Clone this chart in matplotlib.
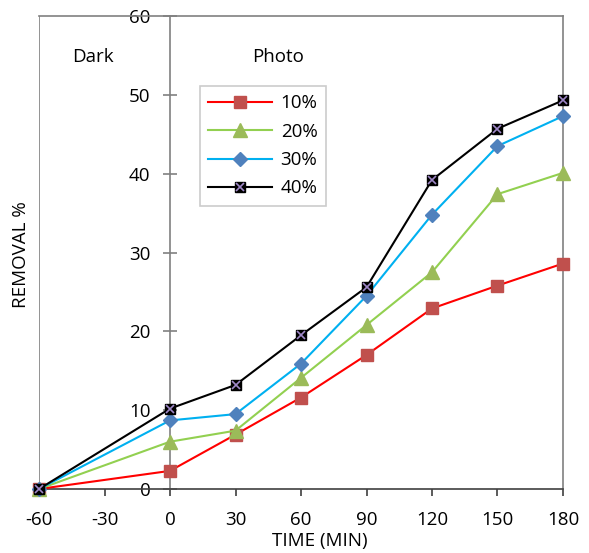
import matplotlib
matplotlib.use("Agg")
import matplotlib.pyplot as plt
from matplotlib.lines import Line2D
from matplotlib.legend_handler import HandlerTuple

plt.rcParams['font.family'] = ['Open Sans', 'DejaVu Sans']
plt.rcParams['axes.unicode_minus'] = False

time = [-60, 0, 30, 60, 90, 120, 150, 180]
s10 = [0, 2.3, 6.9, 11.6, 17.0, 22.9, 25.8, 28.6]
s20 = [0, 6.0, 7.4, 14.1, 20.8, 27.5, 37.4, 40.1]
s30 = [0, 8.7, 9.5, 15.9, 24.5, 34.8, 43.5, 47.3]
s40 = [0, 10.2, 13.2, 19.5, 25.6, 39.2, 45.7, 49.3]
labels = ['10%', '20%', '30%', '40%']
xticks = [-60, -30, 0, 30, 60, 90, 120, 150, 180]
yticks = [0, 10, 20, 30, 40, 50, 60]

FS = 13.5
fig = plt.figure(figsize=(5.89, 5.53), dpi=100)
ax = fig.add_axes([39/589, 1-489/553, (563-39)/589, (489-16)/553])
ax.set_xlim(-60, 180)
ax.set_ylim(0, 60)

gray = '#808080'
lw = 1.5
h1, = ax.plot(time, s10, color='#FF0000', lw=lw, marker='s', ms=9,
              mfc='#C0504D', mec='#C0504D', clip_on=False, zorder=3)
h2, = ax.plot(time, s20, color='#92D050', lw=lw, marker='^', ms=9.5,
              mfc='#9BBB59', mec='#9BBB59', clip_on=False, zorder=3)
h3, = ax.plot(time, s30, color='#00B0F0', lw=lw, marker='D', ms=7.5,
              mfc='#4F81BD', mec='#4F81BD', clip_on=False, zorder=4)
h4, = ax.plot(time, s40, color='black', lw=lw, marker='s', ms=7.5,
              mfc='black', mec='black', mew=1.0, clip_on=False, zorder=5)
ax.plot(time, s40, ls='none', marker='x', ms=6, mec='#9F88C8', mew=1.2,
        clip_on=False, zorder=6)

# frame
for sp in ['top', 'right']:
    ax.spines[sp].set_color(gray)
    ax.spines[sp].set_linewidth(1.2)
ax.spines['left'].set_position(('data', 0))
ax.spines['left'].set_color(gray)
ax.spines['left'].set_linewidth(1.2)
ax.spines['bottom'].set_color('#404040')
ax.spines['bottom'].set_linewidth(1.2)
ax.axvline(-60, color=gray, lw=1.2, zorder=1)

ax.set_xticks(xticks)
ax.set_yticks(yticks)
ax.tick_params(axis='x', direction='out', length=5, width=1.2, color='#404040',
               pad=11, labelsize=FS)
ax.tick_params(axis='y', direction='inout', length=10, width=1.2, color=gray,
               pad=9, labelsize=FS)

fig.text(320/589, 1-541/553, 'TIME (MIN)', ha='center', va='center', fontsize=FS)
fig.text(21/589, 1-255/553, 'REMOVAL %', ha='center', va='center', rotation=90,
         fontsize=FS)

ax.text(-35.3, 54.8, 'Dark', ha='center', va='center', fontsize=FS)
ax.text(49.5, 54.8, 'Photo', ha='center', va='center', fontsize=FS)

hx = Line2D([], [], ls='none', marker='x', ms=6, mec='#9F88C8', mew=1.2)
leg = ax.legend([h1, h2, h3, (h4, hx)], labels, loc='upper left',
                bbox_to_anchor=((200-39)/524, 1-(86-16)/473),
                handler_map={tuple: HandlerTuple(ndivide=1, pad=0)},
                fontsize=FS, frameon=True, fancybox=False, handlelength=3.4,
                labelspacing=0.55, borderpad=0.45, handletextpad=0.45,
                borderaxespad=0)
leg.get_frame().set_edgecolor('#BFBFBF')
leg.get_frame().set_linewidth(1.2)

fig.savefig('out.png', dpi=100)
